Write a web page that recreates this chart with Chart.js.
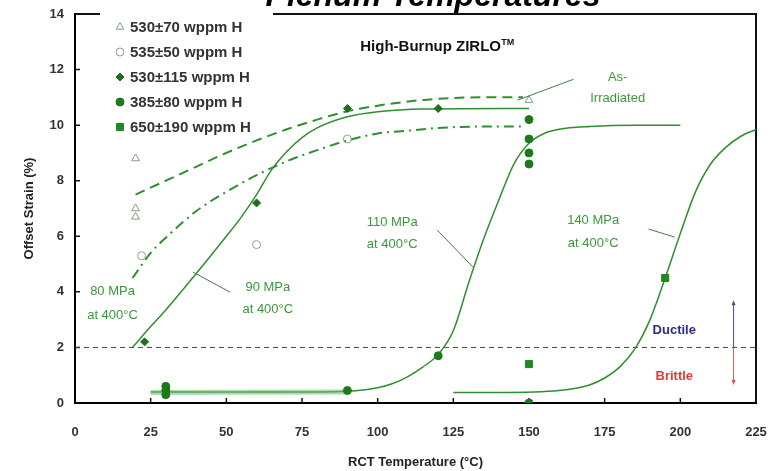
<!DOCTYPE html>
<html>
<head>
<meta charset="utf-8">
<script src="https://cdn.jsdelivr.net/npm/chart.js@4.4.1/dist/chart.umd.min.js"></script>
<style>
  html, body { margin: 0; padding: 0; background: #fff; overflow: hidden; }
</style>
</head>
<body>
<canvas id="graficoStrain" width="776" height="471"></canvas>
<script>
// axes
const xTicks = [0, 25, 50, 75, 100, 125, 150, 175, 200, 225];
const yTicks = [0, 2, 4, 6, 8, 10, 12, 14];

// measured points
const tri530X = [20, 20, 20, 150];
const tri530Y = [8.8, 7.0, 6.7, 10.9];
const circ535X = [22, 60, 90];
const circ535Y = [5.3, 5.7, 9.5];
const dia530X = [23, 60, 90, 120];
const dia530Y = [2.2, 7.2, 10.6, 10.6];
const dot385X = [30, 30, 30, 90, 120, 150, 150, 150, 150, 150];
const dot385Y = [0.6, 0.45, 0.3, 0.45, 1.7, 10.2, 9.5, 9.0, 8.6, 0];
const sq650X = [150, 195];
const sq650Y = [1.4, 4.5];

// fitted curves
const asIrrX = [20, 30, 40, 50, 60, 70, 80, 90, 100, 110, 120, 135, 148];
const asIrrY = [7.5, 8.0, 8.5, 9.0, 9.45, 9.85, 10.2, 10.5, 10.7, 10.85, 10.95, 11.0, 11.0];
const mpa80X = [19, 25, 30, 40, 50, 60, 70, 80, 90, 100, 110, 120, 135, 148];
const mpa80Y = [4.5, 5.4, 5.95, 6.9, 7.6, 8.2, 8.7, 9.1, 9.45, 9.7, 9.8, 9.9, 9.95, 9.95];
const mpa90X = [19, 25, 30, 40, 50, 55, 60, 65, 70, 75, 80, 90, 100, 115, 150];
const mpa90Y = [2.0, 2.75, 3.35, 4.65, 6.0, 6.7, 7.5, 8.4, 9.05, 9.55, 9.9, 10.3, 10.48, 10.58, 10.6];
const mpa110X = [25, 40, 60, 80, 90, 100, 105, 110, 115, 120, 125, 130, 135, 140, 145, 150, 155, 160, 170, 185, 200];
const mpa110Y = [0.4, 0.4, 0.4, 0.4, 0.42, 0.55, 0.7, 0.95, 1.3, 1.75, 2.6, 4.3, 5.9, 7.3, 8.6, 9.35, 9.7, 9.85, 9.95, 10.0, 10.0];
const bandX = [25, 90];
const bandY = [0.38, 0.4];
const mpa140X = [125, 140, 160, 170, 175, 180, 185, 190, 195, 200, 205, 210, 215, 220, 225];
const mpa140Y = [0.38, 0.38, 0.45, 0.65, 0.9, 1.3, 1.95, 3.0, 4.5, 6.1, 7.6, 8.6, 9.2, 9.6, 9.85];
const limitX = [0, 225];
const limitY = [2, 2];

const pts = (xs, ys) => xs.map((v, i) => ({ x: v, y: ys[i] }));
const FONT = "'Liberation Sans', Arial, sans-serif";
Chart.defaults.font.family = FONT;

const green = '#2f8f2f';
const curve = (data, extra) => Object.assign({
	data, showLine: true, pointRadius: 0, borderColor: green, borderWidth: 1.5,
	cubicInterpolationMode: 'monotone', fill: false, isCurve: true,
}, extra);

const marker = (label, data, style, radius, fill, stroke) => ({
	label, data, pointStyle: style, pointRadius: radius, pointHoverRadius: radius,
	backgroundColor: fill, borderColor: stroke, borderWidth: 1, showLine: false,
});

// legend, borders, inner ticks and the labels written on the plot
const decor = {
	id: 'decor',
	beforeDatasetsDraw(chart) {
		const { ctx, chartArea: a, scales: { x, y } } = chart;
		ctx.save();
		ctx.strokeStyle = '#111';
		ctx.lineWidth = 2;
		ctx.beginPath();
		ctx.moveTo(a.left, a.top); ctx.lineTo(a.left + 25, a.top);
		ctx.moveTo(a.left + 198, a.top); ctx.lineTo(a.right, a.top); ctx.lineTo(a.right, a.bottom);
		ctx.stroke();
		ctx.lineWidth = 1.5;
		ctx.beginPath();
		xTicks.slice(1, -1).forEach(v => {
			const p = x.getPixelForValue(v);
			ctx.moveTo(p, a.bottom); ctx.lineTo(p, a.bottom - 5);
		});
		yTicks.slice(1, -1).forEach(v => {
			const p = y.getPixelForValue(v);
			ctx.moveTo(a.left, p); ctx.lineTo(a.left + 5, p);
		});
		ctx.stroke();
		ctx.restore();
	},
	afterDatasetsDraw(chart) {
		const { ctx, chartArea: a, scales: { x, y } } = chart;
		const px = v => x.getPixelForValue(v);
		const py = v => y.getPixelForValue(v);
		ctx.save();

		// title (cut off by the top edge, as in the source figure)
		ctx.fillStyle = '#000';
		ctx.font = 'italic bold 32px ' + FONT;
		ctx.textAlign = 'center';
		ctx.textBaseline = 'alphabetic';
		ctx.fillText('Plenum Temperatures', 433, 6);

		// legend
		ctx.textAlign = 'left';
		ctx.textBaseline = 'middle';
		ctx.font = 'bold 15px ' + FONT;
		chart.data.datasets.filter(d => !d.isCurve).forEach((d, i) => {
			const ly = a.top + 13 + i * 25;
			ctx.fillStyle = d.backgroundColor;
			ctx.strokeStyle = d.borderColor;
			ctx.lineWidth = 1;
			Chart.helpers.drawPoint(ctx, {
				pointStyle: d.pointStyle, radius: d.pointRadius, rotation: 0, borderWidth: 1,
			}, a.left + 45, ly);
			ctx.fillStyle = '#333';
			ctx.fillText(d.label, a.left + 55, ly + 1);
		});

		// heading
		ctx.textAlign = 'center';
		ctx.font = 'bold 15px ' + FONT;
		ctx.fillStyle = '#111';
		ctx.fillText('High-Burnup ZIRLO', px(117.5), py(12.8));
		ctx.font = 'bold 9px ' + FONT;
		ctx.fillText('TM', px(117.5) + 77, py(12.8) - 5);

		// green notes
		ctx.font = '13px ' + FONT;
		ctx.fillStyle = '#3a993a';
		const notes = [
			['As-', 179.3, 11.7], ['Irradiated', 179.3, 10.97],
			['80 MPa', 12.4, 4.0], ['at 400°C', 12.4, 3.15],
			['90 MPa', 63.7, 4.17], ['at 400°C', 63.7, 3.35],
			['110 MPa', 104.8, 6.5], ['at 400°C', 104.8, 5.7],
			['140 MPa', 171.2, 6.58], ['at 400°C', 171.2, 5.76],
		];
		notes.forEach(([t, vx, vy]) => ctx.fillText(t, px(vx), py(vy)));

		// leader lines
		ctx.strokeStyle = '#4a7a4a';
		ctx.lineWidth = 1;
		ctx.beginPath();
		[
			[164.7, 11.65, 146.2, 10.9],
			[51.2, 3.99, 39, 4.71],
			[119.7, 6.22, 131.5, 4.89],
			[189.5, 6.26, 198.1, 5.97],
		].forEach(([x1, y1, x2, y2]) => { ctx.moveTo(px(x1), py(y1)); ctx.lineTo(px(x2), py(y2)); });
		ctx.stroke();

		// ductile / brittle
		ctx.font = 'bold 13px ' + FONT;
		ctx.fillStyle = '#2c2c80';
		ctx.fillText('Ductile', px(198), py(2.63));
		ctx.fillStyle = '#e03a3a';
		ctx.fillText('Brittle', px(198), py(0.94));
		const ax = px(217.6);
		ctx.lineWidth = 1;
		ctx.strokeStyle = '#4a4a90';
		ctx.beginPath(); ctx.moveTo(ax, py(2)); ctx.lineTo(ax, py(3.63)); ctx.stroke();
		ctx.fillStyle = '#4a4a90';
		ctx.beginPath(); ctx.moveTo(ax, py(3.63) - 2); ctx.lineTo(ax - 2, py(3.63) + 3); ctx.lineTo(ax + 2, py(3.63) + 3); ctx.fill();
		ctx.strokeStyle = '#e05050';
		ctx.beginPath(); ctx.moveTo(ax, py(2)); ctx.lineTo(ax, py(0.72)); ctx.stroke();
		ctx.fillStyle = '#e05050';
		ctx.beginPath(); ctx.moveTo(ax, py(0.72) + 2); ctx.lineTo(ax - 2, py(0.72) - 3); ctx.lineTo(ax + 2, py(0.72) - 3); ctx.fill();

		ctx.restore();
	},
};

document.addEventListener('DOMContentLoaded', () => {
	new Chart(document.getElementById('graficoStrain'), {
		type: 'scatter',
		data: {
			datasets: [
				marker('530±70 wppm H', pts(tri530X, tri530Y), 'triangle', 4.5, 'transparent', '#7f9f7f'),
				marker('535±50 wppm H', pts(circ535X, circ535Y), 'circle', 4, 'transparent', '#999999'),
				marker('530±115 wppm H', pts(dia530X, dia530Y), 'rectRot', 4, '#1d6e1d', '#1d6e1d'),
				marker('385±80 wppm H', pts(dot385X, dot385Y), 'circle', 4, '#1c7a1c', '#1c7a1c'),
				marker('650±190 wppm H', pts(sq650X, sq650Y), 'rect', 5, '#1f8a1f', '#1f8a1f'),
				curve(pts(bandX, bandY), { borderColor: 'rgba(110,190,110,0.55)', borderWidth: 5 }),
				curve(pts(asIrrX, asIrrY), { borderDash: [10, 6], borderWidth: 2 }),
				curve(pts(mpa80X, mpa80Y), { borderDash: [10, 5, 2, 5], borderWidth: 2 }),
				curve(pts(mpa90X, mpa90Y)),
				curve(pts(mpa110X, mpa110Y)),
				curve(pts(mpa140X, mpa140Y)),
				curve(pts(limitX, limitY), { borderColor: '#444', borderWidth: 1, borderDash: [5, 4], cubicInterpolationMode: 'default' }),
			],
		},
		options: {
			responsive: false,
			animation: false,
			layout: { padding: { top: 14, right: 20, left: 0, bottom: 0 } },
			plugins: {
				legend: { display: false },
				tooltip: { enabled: false },
			},
			scales: {
				x: {
					type: 'linear',
					min: 0,
					max: 225,
					afterBuildTicks: s => { s.ticks = xTicks.map(v => ({ value: v })); },
					afterFit: s => { s.height = 68; s.paddingLeft = 0; s.paddingRight = 0; },
					ticks: { color: '#333', padding: 22, font: { size: 13, weight: 'bold' } },
					grid: { drawOnChartArea: false, drawTicks: false },
					border: { color: '#000', width: 2 },
					title: {
						display: true,
						text: 'RCT Temperature (°C)',
						color: '#222',
						font: { size: 13, weight: 'bold' },
						padding: { top: 0, bottom: 1 },
					},
				},
				y: {
					type: 'linear',
					min: 0,
					max: 14,
					afterBuildTicks: s => { s.ticks = yTicks.map(v => ({ value: v })); },
					afterFit: s => { s.width = 75; s.paddingTop = 0; s.paddingBottom = 0; },
					ticks: { color: '#333', padding: 11, font: { size: 13, weight: 'bold' } },
					grid: { drawOnChartArea: false, drawTicks: false },
					border: { color: '#000', width: 2 },
					title: {
						display: true,
						text: 'Offset Strain (%)',
						color: '#222',
						font: { size: 13, weight: 'bold' },
						padding: { top: 22, bottom: 0 },
					},
				},
			},
		},
		plugins: [decor],
	});
});
</script>
</body>
</html>
